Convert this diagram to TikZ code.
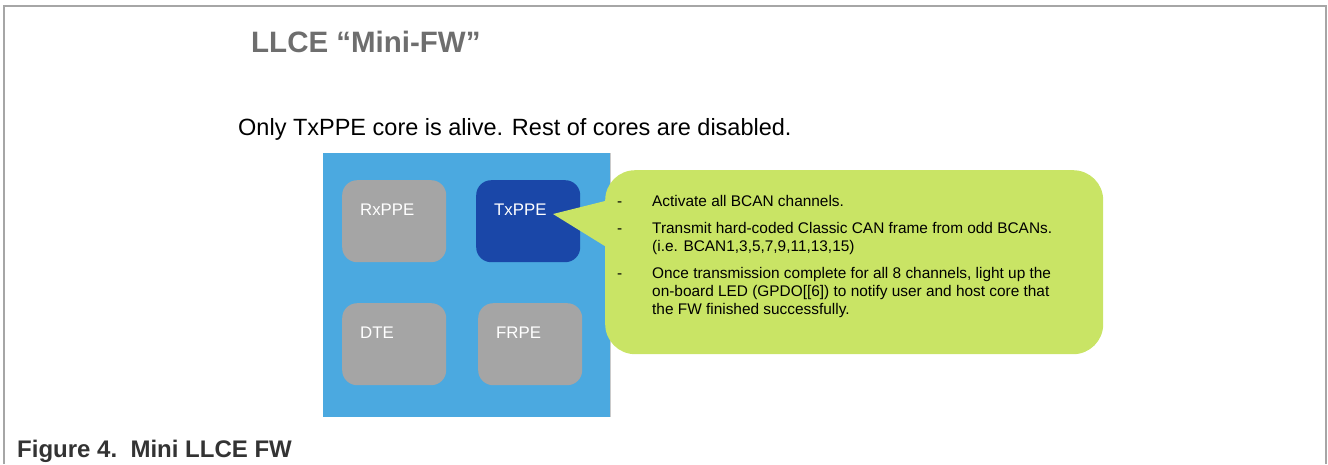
\documentclass[tikz,border=0pt]{standalone}
\usepackage{fontspec}
\setmainfont{Liberation Sans}
\definecolor{framegrey}{HTML}{A6A6A6}
\definecolor{llceblue}{HTML}{4BA9E0}
\definecolor{coregrey}{HTML}{A5A5A5}
\definecolor{activeblue}{HTML}{1A47A8}
\definecolor{notegreen}{HTML}{C9E465}
\definecolor{titlegrey}{HTML}{6E6E6E}
\definecolor{captiongrey}{HTML}{333333}
\begin{document}
\begin{tikzpicture}[x=1pt,y=-1pt,
  core/.style={fill=coregrey, rounded corners=15pt, minimum width=104pt,
    minimum height=82pt, anchor=north west, inner sep=0pt},
  corelabel/.style={anchor=base west, text=white, font=\fontsize{16.8}{18}\selectfont, inner sep=0pt},
  notetext/.style={anchor=north west, inner sep=0pt, font=\fontsize{15.4}{18}\selectfont}]
\useasboundingbox (0,0) rectangle (1328,464);

% outer frame, open at the bottom
\draw[framegrey, line width=1.5pt] (4,464) -- (4,6) -- (1326,6) -- (1326,464);

% headings
\node[anchor=base west, inner sep=0pt, text=titlegrey,
  font=\fontsize{29.5}{31}\selectfont\bfseries] (title) at (251,52) {LLCE “Mini-FW”};
\node[anchor=base west, inner sep=0pt,
  font=\fontsize{23.5}{25}\selectfont] (subtitle) at (238,135)
  {Only TxPPE core is alive. Rest of cores are disabled.};

% LLCE block with its four cores
\node[fill=llceblue, minimum width=287pt, minimum height=264pt, anchor=north west,
  inner sep=0pt] (llce) at (323,153) {};
\draw[framegrey!60, line width=0.8pt] (llce.north east) -- (llce.south east);

\node[core] (rx) at (342,180) {};
\node[core, fill=activeblue] (tx) at (476,180) {};
\node[core] (dte) at (342,303) {};
\node[core] (frpe) at (478,303) {};

\node[corelabel] at ([xshift=18pt,yshift=-35pt]rx.north west) {RxPPE};
\node[corelabel] at ([xshift=18pt,yshift=-35pt]tx.north west) {TxPPE};
\node[corelabel] at ([xshift=18pt,yshift=-35pt]dte.north west) {DTE};
\node[corelabel] at ([xshift=18pt,yshift=-35pt]frpe.north west) {FRPE};

% callout bubble pointing at the TxPPE core
\node[fill=notegreen, rounded corners=30pt, minimum width=498pt, minimum height=184pt,
  anchor=north west, inner sep=0pt] (note) at (605,170) {};
\coordinate (tip) at (553,214);
\fill[notegreen] (tip) -- ([yshift=-31pt]note.north west) -- ([xshift=3pt,yshift=-78pt]note.north west) -- cycle;

\node[notetext] (notebody) at (617,193.5) {%
  \begin{tabular}{@{}p{35pt}@{}l@{}}
  - & Activate all BCAN channels.\\[9pt]
  - & Transmit hard-coded Classic CAN frame from odd BCANs.\\
    & (i.e. BCAN1,3,5,7,9,11,13,15)\\[9pt]
  - & Once transmission complete for all 8 channels, light up the\\
    & on-board LED (GPDO[[6]) to notify user and host core that\\
    & the FW finished successfully.
  \end{tabular}};

% caption
\node[anchor=base west, inner sep=0pt, text=captiongrey,
  font=\fontsize{24}{26}\selectfont\bfseries] (caption) at (17,457) {Figure 4.\ \ Mini LLCE FW};
\end{tikzpicture}
\end{document}
